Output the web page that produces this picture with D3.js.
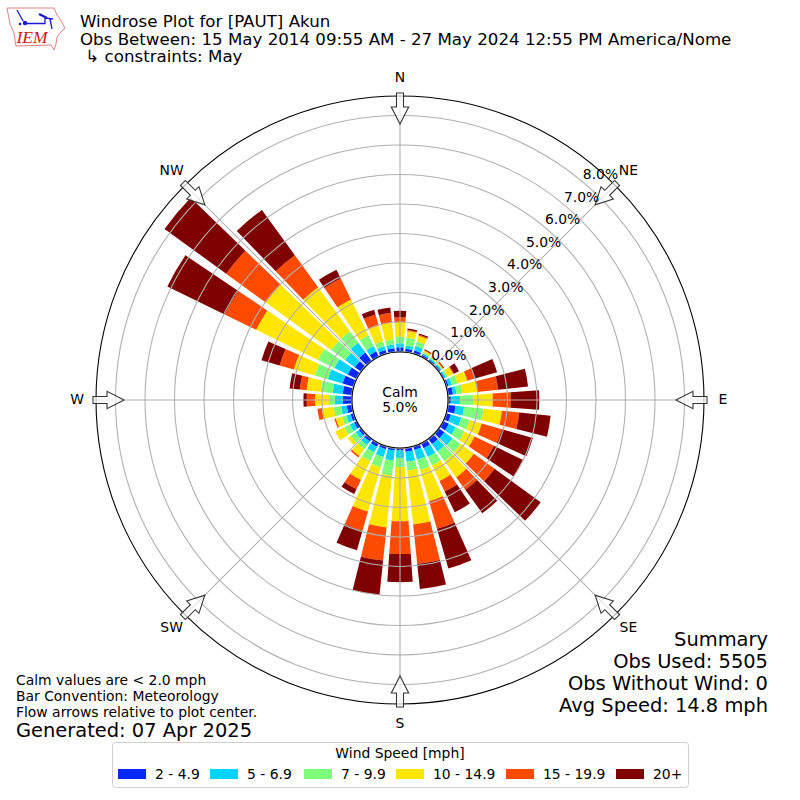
<!DOCTYPE html>
<html>
<head>
<meta charset="utf-8">
<script src="https://cdn.jsdelivr.net/npm/d3@7"></script>
<style>
html, body { margin: 0; padding: 0; background: #fff; }
svg { display: block; }
text { font-family: "DejaVu Sans", sans-serif; fill: #000; }
</style>
</head>
<body>
<div id="chart"></div>
<script>
// wind direction of every bar, degrees from north
var directions = [0, 10, 20, 30, 40, 50, 60, 70, 80, 90, 100, 110, 120, 130, 140, 150, 160, 170,
    180, 190, 200, 210, 220, 230, 240, 250, 260, 270, 280, 290, 300, 310, 320, 330, 340, 350];

var speedBins = ["2 - 4.9", "5 - 6.9", "7 - 9.9", "10 - 14.9", "15 - 19.9", "20+"];
var binColors = ["#0028ff", "#00d4ff", "#7dff7a", "#ffe600", "#ff4a00", "#7f0000"];

// percent of observations per direction, one list per speed bin
var bin2to5 = [.14, .10, .10, .06, .05, .05, .04, .07, .16, .08, .25, .15, .20, .22, .20, .18, .12, .12,
    .07, .08, .09, .12, .10, .08, .09, .10, .17, .30, .31, .38, .33, .25, .35, .19, .12, .12];
var bin5to7 = [.14, .11, .16, .06, .05, .05, .05, .12, .12, .31, .29, .37, .26, .34, .31, .32, .34, .34,
    .25, .34, .28, .21, .15, .14, .16, .15, .19, .26, .34, .52, .50, .41, .41, .20, .13, .13];
var bin7to10 = [.22, .27, .16, .05, .04, .03, .07, .20, .20, .45, .66, .30, .33, .34, .41, .33, .36, .30,
    .31, .51, .36, .33, .17, .20, .21, .15, .26, .20, .41, .46, .62, .58, .48, .41, .18, .17];
var bin10to15 = [.50, .23, .20, .05, .03, .03, .20, .34, .51, .66, .63, .42, .38, .55, .68, .58, 1.11, 1.84,
    1.84, 1.77, 1.56, .71, .28, .13, .34, .22, .40, .48, .48, .74, 2.33, 2.74, 1.84, 1.35, .55, .58];
var bin15to20 = [.16, .03, .04, .02, .01, .02, .03, .27, .71, .61, .59, .71, .73, .87, .52, .40, .97, 1.35,
    1.11, 1.13, .68, .35, .06, 0, 0, .05, .15, .28, .23, .50, 1.19, 1.66, 1.34, .79, .39, .32];
var bin20up = [.22, .05, .04, .03, .01, .03, .19, .78, 1.02, .97, 1.07, 1.09, 1.10, 1.93, .98, .78, 1.40, .85,
    .95, 1.17, .68, .18, 0, 0, 0, 0, 0, .11, .35, .64, 2.16, 2.58, 1.90, .33, .17, .19];

var binValues = [bin2to5, bin5to7, bin7to10, bin10to15, bin15to20, bin20up];

var ringTicks = [0, 1, 2, 3, 4, 5, 6, 7, 8];
var compass = ["N", "NE", "E", "SE", "S", "SW", "W", "NW"];

var titleLines = ["Windrose Plot for [PAUT] Akun",
    "Obs Between: 15 May 2014 09:55 AM - 27 May 2024 12:55 PM America/Nome",
    " \u21b3 constraints: May"];
var noteLines = ["Calm values are < 2.0 mph", "Bar Convention: Meteorology", "Flow arrows relative to plot center."];
var summaryLines = ["Summary", "Obs Used: 5505", "Obs Without Wind: 0", "Avg Speed: 14.8 mph"];

var width = 800, height = 800,
    cx = 400, cy = 400,
    outerRadius = 304;

var svg = d3.select("#chart").append("svg")
    .attr("width", width)
    .attr("height", height);

var plot = svg.append("g").attr("transform", "translate(" + cx + "," + cy + ")");

var r = d3.scaleLinear().domain([0, 8]).range([48.5, 284.5]);
var angle = d3.scaleLinear().domain([0, 360]).range([0, 2 * Math.PI]);
var halfBar = 4;

// stack the speed bins per direction
var table = directions.map(function(dir, i) {
    var row = { dir: dir };
    binValues.forEach(function(vals, b) { row[speedBins[b]] = vals[i]; });
    return row;
});
var layers = d3.stack().keys(speedBins)(table);

var arc = d3.arc()
    .innerRadius(function(d) { return r(d[0]); })
    .outerRadius(function(d) { return r(d[1]); })
    .startAngle(function(d) { return angle(d.data.dir - halfBar); })
    .endAngle(function(d) { return angle(d.data.dir + halfBar); });

plot.append("circle").attr("r", outerRadius).attr("fill", "#fff");

plot.selectAll(".layer")
    .data(layers)
    .enter().append("g")
    .attr("class", "layer")
    .attr("fill", function(d, i) { return binColors[i]; })
    .selectAll("path")
    .data(function(d) { return d.filter(function(s) { return s[1] > s[0]; }); })
    .enter().append("path")
    .attr("d", arc);

// grid sits over the bars
plot.selectAll(".ring")
    .data(ringTicks)
    .enter().append("circle")
    .attr("class", "ring")
    .attr("r", function(d) { return r(d); })
    .attr("fill", "none")
    .attr("stroke", "#b0b0b0")
    .attr("stroke-width", 1.1);

plot.selectAll(".spoke")
    .data(compass)
    .enter().append("line")
    .attr("class", "spoke")
    .attr("x1", function(d, i) { return r(0) * Math.sin(angle(i * 45)); })
    .attr("y1", function(d, i) { return -r(0) * Math.cos(angle(i * 45)); })
    .attr("x2", function(d, i) { return outerRadius * Math.sin(angle(i * 45)); })
    .attr("y2", function(d, i) { return -outerRadius * Math.cos(angle(i * 45)); })
    .attr("stroke", "#b0b0b0")
    .attr("stroke-width", 1.1);

plot.append("circle")
    .attr("r", outerRadius)
    .attr("fill", "none")
    .attr("stroke", "#000")
    .attr("stroke-width", 1.1);

// calm circle
plot.append("circle")
    .attr("r", 48)
    .attr("fill", "#fff")
    .attr("stroke", "#000")
    .attr("stroke-width", 1.1);

plot.append("text").attr("text-anchor", "middle").attr("y", -3).style("font-size", "13.9px").text("Calm");
plot.append("text").attr("text-anchor", "middle").attr("y", 12).style("font-size", "13.9px").text("5.0%");

// flow arrows, tip points at the center
var arrowShape = "M-3.5,-307 L3.5,-307 L3.5,-293 L8.7,-293 L0,-276 L-8.7,-293 L-3.5,-293 Z";
plot.selectAll(".flow")
    .data(compass)
    .enter().append("path")
    .attr("class", "flow")
    .attr("d", arrowShape)
    .attr("transform", function(d, i) { return "rotate(" + (i * 45) + ")"; })
    .attr("fill", "#fff")
    .attr("fill-opacity", 0.7)
    .attr("stroke", "#333")
    .attr("stroke-width", 1.1);

plot.selectAll(".compass")
    .data(compass)
    .enter().append("text")
    .attr("class", "compass")
    .attr("text-anchor", "middle")
    .attr("dy", "0.36em")
    .attr("x", function(d, i) { return 323 * Math.sin(angle(i * 45)); })
    .attr("y", function(d, i) { return -323 * Math.cos(angle(i * 45)) - (i % 4 ? 1.5 : 0); })
    .style("font-size", "13.9px")
    .text(function(d) { return d; });

var labelAngle = angle(40);
plot.selectAll(".ringlabel")
    .data(ringTicks)
    .enter().append("text")
    .attr("class", "ringlabel")
    .attr("x", function(d) { return r(d) * Math.sin(labelAngle); })
    .attr("y", function(d) { return -r(d) * Math.cos(labelAngle) - 3; })
    .style("font-size", "13.9px")
    .text(function(d) { return d.toFixed(1) + "%"; });

// header
svg.selectAll(".title")
    .data(titleLines)
    .enter().append("text")
    .attr("class", "title")
    .attr("xml:space", "preserve")
    .style("white-space", "pre")
    .attr("x", 80)
    .attr("y", function(d, i) { return 27 + i * 17.5; })
    .style("font-size", "16.67px")
    .text(function(d) { return d; });

// footer notes
svg.selectAll(".note")
    .data(noteLines)
    .enter().append("text")
    .attr("class", "note")
    .attr("x", 16)
    .attr("y", function(d, i) { return 685 + i * 16; })
    .style("font-size", "13.9px")
    .text(function(d) { return d; });

svg.append("text").attr("x", 16).attr("y", 737).style("font-size", "19.44px").text("Generated: 07 Apr 2025");

svg.selectAll(".summary")
    .data(summaryLines)
    .enter().append("text")
    .attr("class", "summary")
    .attr("text-anchor", "end")
    .attr("x", 768)
    .attr("y", function(d, i) { return 646 + i * 22; })
    .style("font-size", "19.44px")
    .text(function(d) { return d; });

// legend
var legend = svg.append("g");
legend.append("rect")
    .attr("x", 112.5).attr("y", 742.5)
    .attr("width", 576).attr("height", 45)
    .attr("rx", 3)
    .attr("fill", "#fff")
    .attr("stroke", "#d0d0d0");
legend.append("text")
    .attr("x", 400).attr("y", 758)
    .attr("text-anchor", "middle")
    .style("font-size", "13.9px")
    .text("Wind Speed [mph]");

var swatchX = [118, 210, 304, 396, 506, 616];
var legendItem = legend.selectAll(".item")
    .data(speedBins)
    .enter().append("g")
    .attr("class", "item")
    .attr("transform", function(d, i) { return "translate(" + swatchX[i] + ",769)"; });
legendItem.append("rect")
    .attr("width", 28).attr("height", 10)
    .attr("fill", function(d, i) { return binColors[i]; });
legendItem.append("text")
    .attr("x", 37).attr("y", 10)
    .style("font-size", "13.9px")
    .text(function(d) { return d; });

// IEM logo
var logo = svg.append("g");
logo.append("path")
    .attr("d", "M7,8 L54,8 L57,15 L60,19 L65,28 L60,33 L57,37 L56,44 L54,50 L51,45 L16,46 L14,33 L10,24 Z")
    .attr("fill", "#fff")
    .attr("stroke", "#e88080")
    .attr("stroke-width", 1);
logo.append("path")
    .attr("d", "M25,23.5 L45,23.5 L45,18 L53,19 M17,10 L23,21 M50,19 L52,29")
    .attr("fill", "none")
    .attr("stroke", "#1a1ad0")
    .attr("stroke-width", 1.3);
logo.append("path")
    .attr("d", "M39,14 L47,18")
    .attr("fill", "none")
    .attr("stroke", "#1a1ad0")
    .attr("stroke-width", 2.5);
logo.append("circle").attr("cx", 25).attr("cy", 23).attr("r", 2.2).attr("fill", "#1a1ad0");
logo.append("circle").attr("cx", 20).attr("cy", 24).attr("r", 1.3).attr("fill", "#1a1ad0");
logo.append("text")
    .attr("x", 16.5).attr("y", 43)
    .style("font-family", "'Liberation Serif', serif")
    .style("font-style", "italic")
    .style("font-size", "17.5px")
    .style("fill", "#c82020")
    .text("IEM");
</script>
</body>
</html>
